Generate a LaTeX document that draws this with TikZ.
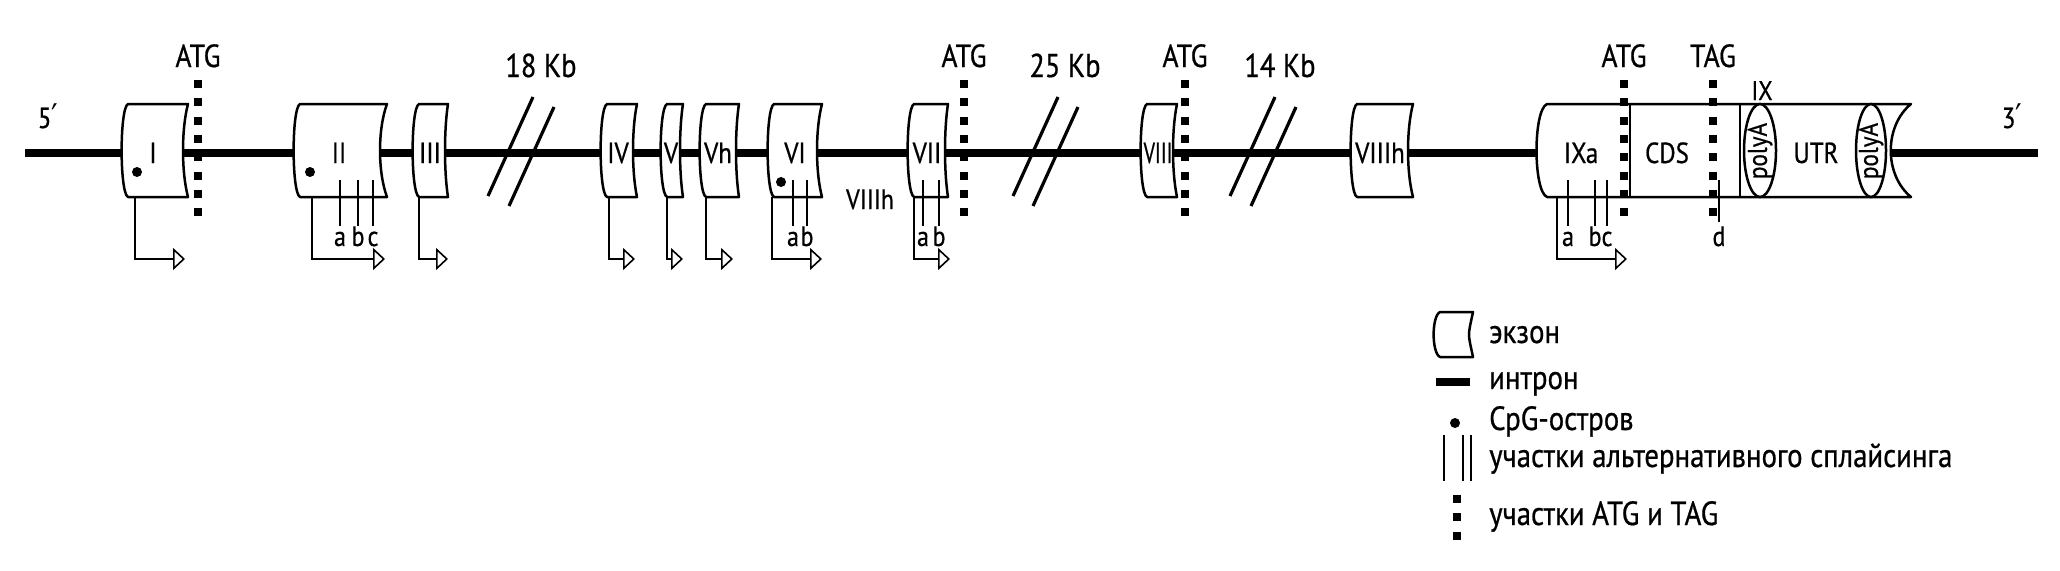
\documentclass[tikz,border=0pt]{standalone}
\usepackage{fontspec}
\setmainfont{PT Sans}[FakeStretch=0.86, FakeBold=0.6]
\newfontfamily\djv{DejaVu Sans}[FakeStretch=0.86]
\usetikzlibrary{arrows.meta}
\tikzset{
  intron/.style={line width=8pt},
  exonshape/.style={draw, line width=2.5pt, fill=white, line join=round},
  exlabel/.style={font=\fontsize{29}{29}\selectfont, anchor=base, inner sep=0pt},
  smlabel/.style={font=\fontsize{28}{28}\selectfont, anchor=base, inner sep=0pt},
  toplabel/.style={font=\fontsize{32}{32}\selectfont, anchor=base, inner sep=0pt},
  kblabel/.style={font=\fontsize{33}{33}\selectfont, anchor=base, inner sep=0pt},
  leglabel/.style={font=\fontsize{33.5}{33.5}\selectfont, anchor=base west, inner sep=0pt},
  atgline/.style={line width=8.5pt, dash pattern=on 8pt off 10.3pt},
  splice/.style={line width=2.6pt},
  breakline/.style={line width=3.2pt},
  prom/.style={line width=1.6pt, -{Triangle[open, length=12pt, width=22pt, line width=1.6pt]}},
  cpg/.style={circle, fill, inner sep=0pt, minimum size=10pt},
}
% #1 L (bulge) #2 R #3 top #4 bottom #5 right depth
\newcommand\exonpath[5]{%
  \draw[exonshape] ({#1+7},#3) -- (#2,#3)
    .. controls ({#2-1.33*#5},{#3+25}) and ({#2-1.33*#5},{#4-25}) .. (#2,#4)
    -- ({#1+7},#4) .. controls ({#1-1.5},{#4-4}) and ({#1-1.5},{#3+4}) .. cycle;}
% #1 name #2 L #3 R #4 depth #5 label x #6 label
\newcommand\exonbox[6]{%
  \exonpath{#2}{#3}{104}{197}{#4}
  \node[exlabel] (#1) at (#5,163) {#6};}
% #1 name #2 x #3 tip x
\newcommand\promarrow[3]{%
  \coordinate (#1s) at (#2,197);
  \coordinate (#1t) at (#3,259);
  \draw[prom] (#1s) |- (#1t);}
% #1 name #2 x #3 label
\newcommand\spl[3]{%
  \coordinate (#1s) at (#2,180);
  \coordinate (#1e) at (#2,226);
  \draw[splice] (#1s) -- (#1e);
  \node[smlabel] (#1l) at (#2,246) {#3};}
% #1 name #2 x #3 label
\newcommand\atg[3]{%
  \coordinate (#1s) at (#2,80);
  \coordinate (#1e) at (#2,217);
  \draw[atgline] (#1s) -- (#1e);
  \node[toplabel] (#1l) at (#2,67) {#3};}
\begin{document}
\begin{tikzpicture}[x=1pt,y=-1pt]
\useasboundingbox (0,0) rectangle (2060,570);
% intron
\coordinate (start) at (25,153);
\coordinate (stop) at (2038,153);
\draw[intron] (start) -- (stop);
\node[font=\fontsize{29}{29}\selectfont, anchor=base, inner sep=0pt] (five) at (48,128) {5{\djv\fontsize{34}{34}\selectfont ′}};
\node[font=\fontsize{29}{29}\selectfont, anchor=base, inner sep=0pt] (three) at (2012,128) {3{\djv\fontsize{34}{34}\selectfont ′}};
% breaks
\foreach \n/\a/\b in {b1/488/509, b2/1013/1033, b3/1230/1251}{
  \coordinate (\n a1) at (\a,196); \coordinate (\n a2) at ({\a+45},97);
  \coordinate (\n b1) at (\b,206); \coordinate (\n b2) at ({\b+45},107);
  \draw[breakline] (\n a1) -- (\n a2);
  \draw[breakline] (\n b1) -- (\n b2);
}
\node[kblabel] (kb18) at (541,77) {18 Kb};
\node[kblabel] (kb25) at (1065,77) {25 Kb};
\node[kblabel] (kb14) at (1280,77) {14 Kb};
% exons
\exonbox{eI}{121}{188}{5}{153}{I}
\exonbox{eII}{293}{387}{7}{339}{II}
\exonbox{eIII}{412}{448}{3}{430}{III}
\exonbox{eIV}{600}{637}{4}{618}{IV}
\exonbox{eV}{660}{683}{3}{671}{V}
\exonbox{eVh}{699}{739}{3}{718}{Vh}
\exonbox{eVI}{767}{822}{5}{795}{VI}
\exonbox{eVII}{907}{948}{3}{927}{VII}
\exonbox{eVIII}{1140}{1177}{4}{1158}{\scalebox{0.8}[1]{VIII}}
\exonbox{eVIIIh}{1350}{1413}{5}{1380}{VIIIh}
\node[smlabel] (VIIIhfree) at (870,209) {VIIIh};
% big exon IX
\draw[exonshape] (1547,104) -- (1911,104)
  .. controls (1884,126) and (1884,175) .. (1911,197)
  -- (1547,197) .. controls (1533,191) and (1533,110) .. cycle;
\draw[line width=2.5pt] (1630,104) -- (1630,197);
\draw[line width=2.5pt] (1740,104) -- (1740,197);
\draw[line width=2.5pt, fill=white] (1760,150.5) ellipse [x radius=16pt, y radius=46.5pt];
\draw[line width=2.5pt, fill=white] (1871,150.5) ellipse [x radius=15pt, y radius=46.5pt];
\node[exlabel] (IXa) at (1581,163) {IXa};
\node[exlabel] (CDS) at (1667,163) {CDS};
\node[exlabel] (UTR) at (1816,163) {UTR};
\node[font=\fontsize{27}{27}\selectfont, anchor=base, inner sep=0pt] (IX) at (1762,100) {IX};
\node[font=\fontsize{27}{27}\selectfont, rotate=90, inner sep=0pt] (pA1) at (1760,151) {polyA};
\node[font=\fontsize{27}{27}\selectfont, rotate=90, inner sep=0pt] (pA2) at (1871,151) {polyA};
% ATG / TAG
\atg{atg1}{198}{ATG}
\atg{atg2}{964}{ATG}
\atg{atg3}{1185}{ATG}
\atg{atg4}{1624}{ATG}
\atg{tag}{1713}{TAG}
% CpG islands
\node[cpg] (cI) at (137,172) {};
\node[cpg] (cII) at (310,172) {};
\node[cpg] (cVI) at (781,182) {};
% splice sites
\spl{IIa}{340}{a}\spl{IIb}{358}{b}\spl{IIc}{373}{c}
\spl{VIa}{793}{a}\spl{VIb}{807}{b}
\spl{VIIa}{923}{a}\spl{VIIb}{939}{b}
\spl{IXa1}{1568}{a}\spl{IXb}{1595}{b}\spl{IXc}{1607}{c}
\coordinate (ds) at (1719,180); \coordinate (de) at (1719,222);
\draw[splice] (ds) -- (de);
\node[smlabel] (dl) at (1719,246) {d};
% promoters
\promarrow{pI}{135}{185}
\promarrow{pII}{312}{385}
\promarrow{pIII}{419}{448}
\promarrow{pIV}{609}{635}
\promarrow{pV}{667}{683}
\promarrow{pVh}{706}{733}
\promarrow{pVI}{772}{822}
\promarrow{pVII}{914}{950}
\promarrow{pIX}{1557}{1627}
% legend
\exonpath{1433}{1473}{312}{357}{4}
\node[leglabel] (l1) at (1489,343) {экзон};
\coordinate (lia) at (1436,382); \coordinate (lib) at (1470,382);
\draw[intron] (lia) -- (lib);
\node[leglabel] (l2) at (1489,389) {интрон};
\node[cpg] (lc) at (1455,423) {};
\node[leglabel] (l3) at (1489,430) {CpG-остров};
\foreach \x in {1444,1463,1471}{\draw[splice] (\x,435) -- (\x,481);}
\node[leglabel] (l4) at (1489,467) {участки альтернативного сплайсинга};
\coordinate (lda) at (1457,495); \coordinate (ldb) at (1457,541);
\draw[atgline] (lda) -- (ldb);
\node[leglabel] (l5) at (1489,525) {участки ATG и TAG};
\end{tikzpicture}
\end{document}
